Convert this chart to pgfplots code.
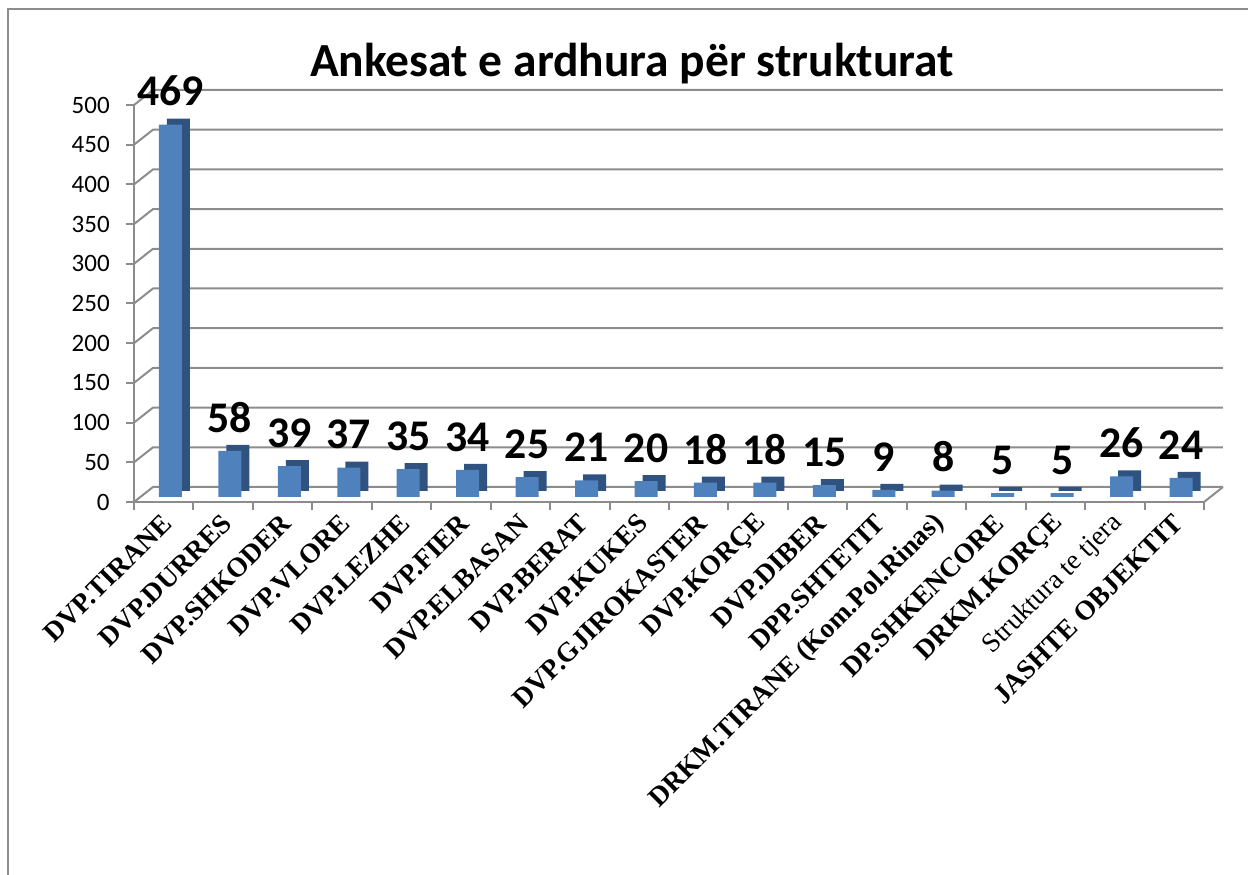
\documentclass[border=0pt]{standalone}
\usepackage{fontspec}
\setmainfont{Liberation Serif}
\newfontfamily\calibri{Carlito}
\usepackage{pgfplots}
\pgfplotsset{compat=1.18}
\definecolor{barFront}{HTML}{4F81BD}
\definecolor{barSide}{HTML}{30527F}
\definecolor{gridGray}{HTML}{8C8C8C}

\begin{document}
\begin{tikzpicture}[x=1pt,y=1pt]
% 1 px of the reference = 0.4pt, origin at the front corner of the axes
\useasboundingbox (-53.6,-149.2) rectangle (445.6,200.8);
\draw[gridGray, line width=0.8pt] (-50.4,-149.2) -- (-50.4,197.2) -- (445.6,197.2);
\node[font=\calibri\bfseries\fontsize{19}{22}\selectfont, anchor=base] at (199.2,170) {Ankesat e ardhura për strukturat};

\begin{axis}[
  at={(0,0)}, anchor=south west, scale only axis,
  width=428pt, height=158.8pt,
  xmin=0, xmax=18, ymin=0, ymax=500,
  clip=false,
  axis x line*=bottom, axis y line*=left,
  axis line style={gridGray, line width=0.8pt, -},
  xtick={0.5,1.5,...,17.5},
  xticklabels={DVP.TIRANE,DVP.DURRES,DVP.SHKODER,DVP.VLORE,DVP.LEZHE,DVP.FIER,DVP.ELBASAN,DVP.BERAT,DVP.KUKES,DVP.GJIROKASTER,DVP.KORÇE,DVP.DIBER,DPP.SHTETIT,DRKM.TIRANE (Kom.Pol.Rinas),DP.SHKENCORE,DRKM.KORÇE,{\mdseries Struktura te tjera},JASHTE OBJEKTIT},
  x tick style={draw=none},
  xticklabel style={rotate=45, anchor=east, xshift=2pt, yshift=-3.5pt,
    font=\bfseries\fontsize{11}{12}\selectfont},
  ytick={0,50,...,500},
  y tick style={gridGray, line width=0.8pt},
  tick align=outside, major tick length=3.2pt,
  yticklabel style={font=\calibri\fontsize{10}{12}\selectfont, xshift=-3pt},
  /pgf/number format/assume math mode=true,
  ybar, bar width=9.2pt,
]
% back wall, side wall and floor
\pgfplotsinvokeforeach{0,50,...,500}{
  \draw[gridGray, line width=0.8pt] (axis cs:0,#1) -- ([xshift=7.6pt,yshift=6pt]axis cs:0,#1) -- ([xshift=7.6pt,yshift=6pt]axis cs:18,#1);
}
\draw[gridGray, line width=0.8pt] (axis cs:18,0) -- ([xshift=7.6pt,yshift=6pt]axis cs:18,0);
\pgfplotsinvokeforeach{0,...,18}{
  \draw[gridGray, line width=0.8pt] (axis cs:#1,0) -- ++(0,-3.2pt);
}

% side of the columns
\addplot[fill=barSide, draw=none, bar shift=5.9pt, yshift=4.4pt] coordinates {
  (0.5,469) (1.5,58) (2.5,39) (3.5,37) (4.5,35) (5.5,34) (6.5,25) (7.5,21) (8.5,20)
  (9.5,18) (10.5,18) (11.5,15) (12.5,9) (13.5,8) (14.5,5) (15.5,5) (16.5,26) (17.5,24)};
% front of the columns
\addplot[fill=barFront, draw=none, bar shift=2.7pt, yshift=2pt,
  nodes near coords,
  every node near coord/.append style={font=\calibri\bfseries\fontsize{17.5}{20}\selectfont, yshift=3.8pt}] coordinates {
  (0.5,469) (1.5,58) (2.5,39) (3.5,37) (4.5,35) (5.5,34) (6.5,25) (7.5,21) (8.5,20)
  (9.5,18) (10.5,18) (11.5,15) (12.5,9) (13.5,8) (14.5,5) (15.5,5) (16.5,26) (17.5,24)};
\end{axis}
\end{tikzpicture}
\end{document}
